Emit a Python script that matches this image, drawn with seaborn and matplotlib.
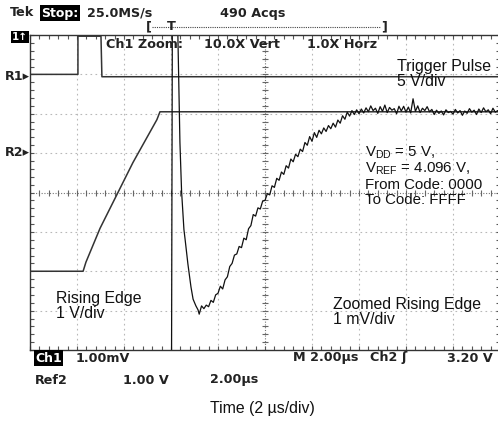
import numpy as np
import pandas as pd
import seaborn as sns
import matplotlib.pyplot as plt
from matplotlib.ticker import MultipleLocator

# time in µs (2 µs/div), level in screen divisions (0 = bottom, 8 = top)
trig_t = [0.0, 2.04, 2.04, 3.02, 3.06, 20.0]
trig_v = [7.0, 7.0, 7.97, 7.97, 6.94, 6.94]

ref2_t = [0.0, 2.26, 2.38, 2.98, 4.38, 5.40, 5.53, 20.0]
ref2_v = [2.0, 2.0, 2.23, 3.09, 4.76, 5.85, 6.05, 6.05]

# zoomed channel: off screen before the edge, then the glitch and settling
ch1_head_t = [0.0, 6.02, 6.06, 6.26, 6.38, 6.45, 6.55, 6.60, 6.72, 6.85, 6.94, 7.06, 7.15]
ch1_head_v = [-1.0, -1.0, 9.0, 9.0, 5.27, 4.03, 3.06, 2.81, 2.18, 1.60, 1.29, 1.12, 1.02]
ch1_rise_v = [0.91, 1.12, 1.05, 1.14, 1.10, 1.26, 1.21, 1.40, 1.44, 1.62,
              1.55, 1.78, 1.86, 2.12, 2.20, 2.41, 2.44, 2.63, 2.60, 2.84,
              2.80, 3.08, 3.16, 3.44, 3.40, 3.61, 3.58, 3.78, 3.80, 3.97,
              3.94, 4.17, 4.13, 4.36, 4.31, 4.52, 4.46, 4.68, 4.62, 4.85,
              4.78, 4.97, 4.91, 5.10, 5.04, 5.27, 5.20, 5.42, 5.30, 5.52,
              5.40, 5.58, 5.49, 5.64, 5.55, 5.70, 5.62, 5.76, 5.66, 5.84,
              5.76, 5.95, 5.86, 6.04, 5.94, 6.08, 5.98, 6.10]
ch1_flat_v = [6.00, 6.12, 6.02, 6.15, 6.05, 6.20, 6.08, 6.14, 6.01, 6.18,
              6.06, 6.22, 6.03, 6.16, 6.09, 6.13, 6.00, 6.19, 6.07, 6.19,
              6.04, 6.17, 6.02, 6.38, 6.06, 6.20, 6.03, 6.14, 6.08, 6.18,
              6.05, 6.11, 5.98, 6.09, 6.01, 6.07, 5.97, 6.10, 6.03, 6.06,
              5.99, 6.11, 6.02, 6.08, 5.96, 6.07, 6.01, 6.13, 6.04, 6.09,
              5.98, 6.12, 6.03, 6.15, 6.05, 6.10, 6.00, 6.14, 6.04, 6.08,
              6.02]
ch1_rise_t = np.round(np.arange(7.2, 13.95, 0.1), 2)
ch1_flat_t = np.round(np.arange(14.0, 20.05, 0.1), 2)

ch1 = pd.DataFrame({
    "t": list(ch1_head_t) + list(ch1_rise_t) + list(ch1_flat_t),
    "v": ch1_head_v + ch1_rise_v + ch1_flat_v,
})

sns.set_style("white")
plt.rcParams['font.family'] = ['DejaVu Sans']
plt.rcParams['mathtext.fontset'] = 'custom'
plt.rcParams['mathtext.rm'] = 'Liberation Sans'

W, H = 498, 422
fig = plt.figure(figsize=(W / 100, H / 100), dpi=100)
ax = fig.add_axes([30 / W, 1 - 350 / H, 470 / W, 315 / H])

# graticule
for t in range(2, 20, 2):
    if t != 10:
        ax.axvline(t, color='#b8b8b8', lw=0.8, ls=(0, (1.5, 3)), zorder=0)
for v in range(1, 8):
    if v != 4:
        ax.axhline(v, color='#b8b8b8', lw=0.8, ls=(0, (1.5, 3)), zorder=0)
ax.axvline(10, color='#777777', lw=0.8, ls=(0, (1, 1.5)), zorder=0)
ax.axhline(4, color='#777777', lw=0.8, ls=(0, (1, 1.5)), zorder=0)
xt = np.arange(0, 20.01, 0.4)
yt = np.arange(0, 8.01, 0.2)
ax.plot(xt, np.full(len(xt), 4.0), ls='none', marker='|', ms=4, mew=0.8, color='#666666', zorder=0)
ax.plot(np.full(len(yt), 10.0), yt, ls='none', marker='_', ms=4, mew=0.8, color='#666666', zorder=0)

# traces
sns.lineplot(x=trig_t, y=trig_v, ax=ax, sort=False, estimator=None, color='#333333', lw=1.1)
sns.lineplot(x=ref2_t, y=ref2_v, ax=ax, sort=False, estimator=None, color='#333333', lw=1.1)
sns.lineplot(data=ch1, x="t", y="v", ax=ax, sort=False, estimator=None, color='#111111', lw=0.9)

ax.set_xlim(0, 20)
ax.set_ylim(0, 8)
ax.set_xlabel("")
ax.set_ylabel("")
ax.xaxis.set_major_locator(MultipleLocator(2))
ax.yaxis.set_major_locator(MultipleLocator(1))
ax.xaxis.set_minor_locator(MultipleLocator(0.4))
ax.yaxis.set_minor_locator(MultipleLocator(0.2))
ax.tick_params(which='both', direction='in', top=True, right=True, bottom=True, left=True,
               length=3, width=0.8, color='#555555',
               labelbottom=False, labelleft=False)
for sp in ax.spines.values():
    sp.set_color('#333333')
    sp.set_linewidth(1.0)


def ptxt(x, y, s, **kw):
    kw.setdefault('va', 'center')
    fig.text(x / W, 1 - y / H, s, **kw)


scope = dict(fontsize=9.2, fontweight='bold', color='#222222', family='DejaVu Sans')
inv = dict(facecolor='black', edgecolor='none', pad=1.0)
label = dict(fontsize=11.4, color='#111111', family='Liberation Sans')
note = dict(fontsize=10.8, color='#111111', family='Liberation Sans')

# header
ptxt(10, 13, "Tek", **scope)
ptxt(41, 13, "Stop:", fontsize=9, fontweight='bold', color='white', bbox=inv)
ptxt(87, 13, "25.0MS/s", **scope)
ptxt(220, 13, "490 Acqs", **scope)
ptxt(146, 27, "[", **scope)
ptxt(381, 27, "]", **scope)
ptxt(167, 27, "T", **scope)
fig.lines.append(plt.Line2D([152 / W, 380 / W], [1 - 27 / H, 1 - 27 / H],
                            transform=fig.transFigure, color='#444444', lw=0.8, ls=(0, (1, 1))))
ptxt(12, 37, "1↑", fontsize=7.5, fontweight='bold', color='white', bbox=inv)
ptxt(106, 44, "Ch1 Zoom:", **scope)
ptxt(204, 44, "10.0X Vert", **scope)
ptxt(307, 44, "1.0X Horz", **scope)
ptxt(5, 76, "R1▸", **scope)
ptxt(5, 153, "R2▸", **scope)

# annotations
ptxt(397, 66, "Trigger Pulse", **label)
ptxt(397, 82, "5 V/div", **label)
ptxt(365, 153, r"V$_{\mathrm{DD}}$ = 5 V,", **note)
ptxt(365, 169, r"V$_{\mathrm{REF}}$ = 4.096 V,", **note)
ptxt(365, 185, "From Code: 0000", **note)
ptxt(365, 200, "To Code: FFFF", **note)
ptxt(56, 298, "Rising Edge", **label)
ptxt(56, 313, "1 V/div", **label)
ptxt(333, 305, "Zoomed Rising Edge", **label)
ptxt(333, 320, "1 mV/div", **label)

# footer
ptxt(35, 358, "Ch1", fontsize=9, fontweight='bold', color='white', bbox=inv)
ptxt(76, 358, "1.00mV", **scope)
ptxt(293, 358, "M 2.00µs", **scope)
ptxt(370, 358, "Ch2 ʃ", **scope)
ptxt(447, 358, "3.20 V", **scope)
ptxt(35, 380, "Ref2", **scope)
ptxt(123, 380, "1.00 V", **scope)
ptxt(210, 380, "2.00µs", **scope)
ptxt(262, 409, "Time (2 µs/div)", ha='center', **label)

fig.savefig("out.png", dpi=100)
